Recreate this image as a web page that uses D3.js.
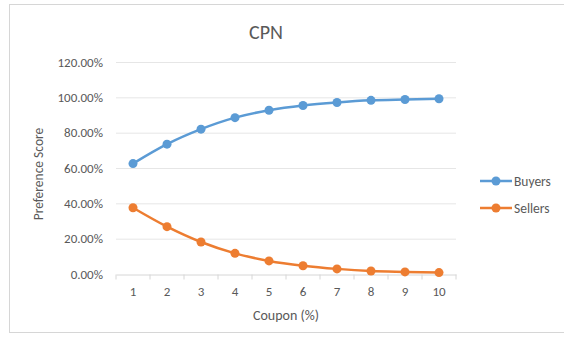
<!DOCTYPE html>
<html>
<head>
<meta charset="utf-8">
<script src="https://cdn.jsdelivr.net/npm/d3@7"></script>
<style>
  body { margin: 0; background: #fff; }
  text { font-family: Calibri, Carlito, Lato, sans-serif; }
</style>
</head>
<body>
<div id="chart"></div>
<script>
// chart data
var coupons = [1, 2, 3, 4, 5, 6, 7, 8, 9, 10];
var buyers = [0.625, 0.735, 0.82, 0.885, 0.927, 0.954, 0.971, 0.983, 0.988, 0.992];
var sellers = [0.375, 0.268, 0.181, 0.117, 0.074, 0.047, 0.029, 0.017, 0.012, 0.008];
var yTicks = [0, 0.2, 0.4, 0.6, 0.8, 1.0, 1.2];
var seriesNames = ["Buyers", "Sellers"];
var colors = ["#5b9bd5", "#ed7d31"];

var width = 564;
var height = 341;

var svg = d3.select("#chart")
  .append("svg")
    .attr("width", width)
    .attr("height", height);

// chart frame
svg.append("rect")
  .attr("x", 9.5).attr("y", 4.5)
  .attr("width", 600).attr("height", 328)
  .attr("fill", "none")
  .attr("stroke", "#d6d6d6");

var x = d3.scaleBand().domain(coupons).range([116, 456]);
var y = d3.scaleLinear().domain([0, 1.2]).range([274, 62]);

// gridlines
svg.selectAll("grid")
  .data(yTicks.slice(1))
  .enter()
  .append("line")
    .attr("x1", 116).attr("x2", 456)
    .attr("y1", function(d) { return y(d) + 0.5; })
    .attr("y2", function(d) { return y(d) + 0.5; })
    .attr("stroke", "#e6e6e6");

// y axis labels
var yAxis = d3.axisLeft(y).tickValues(yTicks).tickSize(0).tickPadding(13)
  .tickFormat(function(d) { return (d * 100).toFixed(2) + "%"; });
var gy = svg.append("g").attr("transform", "translate(116,0)").call(yAxis);
gy.select(".domain").remove();
gy.selectAll("text").attr("fill", "#595959").style("font-size", "13px");

// x axis
var xAxis = d3.axisBottom(x).tickSize(0).tickPadding(12);
var gx = svg.append("g").attr("transform", "translate(0,274.5)").call(xAxis);
gx.select(".domain").attr("stroke", "#d6d6d6");
gx.selectAll("text").attr("fill", "#595959").style("font-size", "13px");
// tick marks between categories
gx.selectAll("sep")
  .data(d3.range(coupons.length + 1))
  .enter()
  .append("line")
    .attr("x1", function(i) { return 116 + i * x.bandwidth(); })
    .attr("x2", function(i) { return 116 + i * x.bandwidth(); })
    .attr("y1", 0).attr("y2", 5)
    .attr("stroke", "#d6d6d6");

// lines and markers
var line = d3.line()
  .x(function(d, i) { return x(coupons[i]) + x.bandwidth() / 2; })
  .y(function(d) { return y(d); })
  .curve(d3.curveMonotoneX);

[buyers, sellers].forEach(function(vals, k) {
  svg.append("path")
    .datum(vals)
    .attr("d", line)
    .attr("fill", "none")
    .attr("stroke", colors[k])
    .attr("stroke-width", 2.5);
  svg.selectAll("pt" + k)
    .data(vals)
    .enter()
    .append("circle")
      .attr("cx", function(d, i) { return x(coupons[i]) + x.bandwidth() / 2; })
      .attr("cy", function(d) { return y(d); })
      .attr("r", 4.5)
      .attr("fill", colors[k]);
});

// legend
seriesNames.forEach(function(name, k) {
  var ly = 181 + k * 27;
  svg.append("line")
    .attr("x1", 480).attr("x2", 512)
    .attr("y1", ly).attr("y2", ly)
    .attr("stroke", colors[k]).attr("stroke-width", 2.5);
  svg.append("circle")
    .attr("cx", 496).attr("cy", ly).attr("r", 4.5)
    .attr("fill", colors[k]);
  svg.append("text")
    .attr("x", 514).attr("y", ly + 4.5)
    .attr("fill", "#595959")
    .style("font-size", "13.5px")
    .text(name);
});

// titles
svg.append("text")
  .attr("x", 266).attr("y", 39)
  .attr("text-anchor", "middle")
  .attr("fill", "#595959")
  .style("font-size", "20px")
  .text("CPN");

svg.append("text")
  .attr("x", 286).attr("y", 320)
  .attr("text-anchor", "middle")
  .attr("fill", "#595959")
  .style("font-size", "14px")
  .text("Coupon (%)");

svg.append("text")
  .attr("transform", "translate(43,174) rotate(-90)")
  .attr("text-anchor", "middle")
  .attr("fill", "#595959")
  .style("font-size", "13.5px")
  .text("Preference Score");
</script>
</body>
</html>
